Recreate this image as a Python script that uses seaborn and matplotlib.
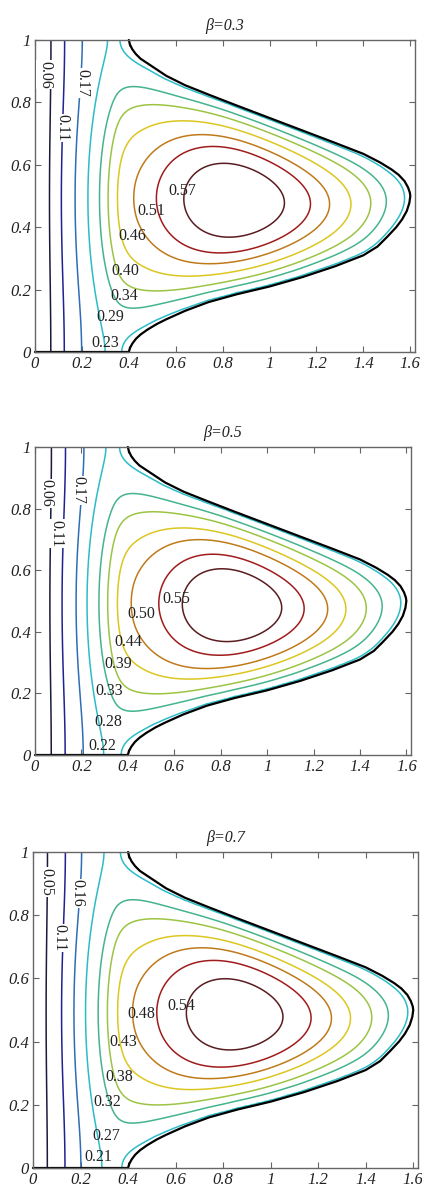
import numpy as np
import matplotlib
matplotlib.use("Agg")
import matplotlib.pyplot as plt
import seaborn as sns

# ---------------------------------------------------------------- data
beta_values = [0.3, 0.5, 0.7]
peak_values = [0.629, 0.607, 0.591]       # field maximum in each panel
boundary_values = [0.211, 0.202, 0.193]   # field value on the curved boundary

levels_b03 = [0.06, 0.11, 0.17, 0.23, 0.29, 0.34, 0.40, 0.46, 0.51, 0.57]
levels_b05 = [0.06, 0.11, 0.17, 0.22, 0.28, 0.33, 0.39, 0.44, 0.50, 0.55]
levels_b07 = [0.05, 0.11, 0.16, 0.21, 0.27, 0.32, 0.38, 0.43, 0.48, 0.54]

# contour label anchors (one per level, same order as the levels)
label_x_b03 = [0.043, 0.115, 0.200, 0.300, 0.320, 0.380, 0.383, 0.413, 0.494, 0.630]
label_y_b03 = [0.888, 0.718, 0.862, 0.029, 0.112, 0.180, 0.260, 0.372, 0.452, 0.516]
label_x_b05 = [0.047, 0.094, 0.185, 0.290, 0.317, 0.320, 0.357, 0.400, 0.460, 0.610]
label_y_b05 = [0.850, 0.720, 0.860, 0.030, 0.107, 0.208, 0.295, 0.367, 0.458, 0.506]
label_x_b07 = [0.055, 0.110, 0.185, 0.274, 0.307, 0.312, 0.362, 0.380, 0.455, 0.623]
label_y_b07 = [0.905, 0.728, 0.870, 0.035, 0.101, 0.209, 0.288, 0.400, 0.487, 0.513]
label_rotation = [-90, -90, -90, 0, 0, 0, 0, 0, 0, 0]

# curved outline of the domain (neck at x = 0.4, tip at x = 1.6)
top_x = [0.400, 0.405, 0.415, 0.430, 0.450, 0.480, 0.520, 0.560, 0.640, 0.740, 0.860,
         1.000, 1.140, 1.280, 1.400, 1.470, 1.520, 1.550, 1.575, 1.590, 1.598, 1.600]
top_y = [1.000, 0.985, 0.970, 0.955, 0.940, 0.925, 0.905, 0.885, 0.855, 0.825, 0.790,
         0.750, 0.710, 0.670, 0.635, 0.608, 0.585, 0.568, 0.548, 0.528, 0.511, 0.500]
bot_x = [0.400, 0.405, 0.415, 0.430, 0.450, 0.480, 0.520, 0.560, 0.640, 0.740, 0.860,
         1.000, 1.140, 1.280, 1.400, 1.460, 1.500, 1.540, 1.565, 1.585, 1.596, 1.600]
bot_y = [0.000, 0.013, 0.027, 0.042, 0.056, 0.072, 0.090, 0.105, 0.132, 0.160, 0.185,
         0.210, 0.240, 0.275, 0.310, 0.338, 0.368, 0.400, 0.425, 0.452, 0.478, 0.500]

line_colors = ["#1a1a3c", "#1f2290", "#2f6db4", "#2cbcc8", "#45b48c",
               "#9cc444", "#dcc620", "#bf7a1a", "#a01c1c", "#5a1c20"]

# ---------------------------------------------------------------- field
NECK = 0.40
XMAX = 1.62
K_LEFT = 0.25          # relative conductivity (x direction) of the rectangular part
ANISO = 3.0            # transverse / axial conductivity ratio in the rectangular part


def smoothstep(t):
    t = np.clip(t, 0.0, 1.0)
    return t * t * (3 - 2 * t)


def domain(h):
    xg = np.arange(0.0, XMAX + h / 2, h)
    yg = np.arange(0.0, 1.0 + h / 2, h)
    X, Y = np.meshgrid(xg, yg)
    ytop = np.where(X < NECK, 1.0, np.interp(X, top_x, top_y, right=0.5))
    ybot = np.where(X < NECK, 0.0, np.interp(X, bot_x, bot_y, right=0.5))
    inside = (X < NECK) | ((Y < ytop) & (Y > ybot))
    inside &= X < top_x[-1]
    free = inside & (X > 1e-9)
    fixed = np.zeros((2,) + X.shape)      # [0] boundary part, [1] source part
    fixed[0][~inside] = 1.0
    blend = smoothstep((X - 0.33) / 0.12)
    kx = K_LEFT + (1 - K_LEFT) * blend
    ky = K_LEFT * ANISO + (1 - K_LEFT * ANISO) * blend
    src = smoothstep((X - 0.35) / 0.08) * (0.25 + 0.75 * smoothstep((X - 0.42) / 0.50))
    source = np.stack([np.zeros_like(X), src])
    return X, Y, inside, free, fixed, source, kx, ky


def relax(u0, free, source, kx, ky, h, n_iter, omega):
    k, ny, nx = u0.shape
    pad = np.zeros((k, ny + 2, nx + 2))
    pad[:, 1:-1, 1:-1] = u0
    face = 0.5 * (kx[:, :-1] + kx[:, 1:])
    kE = np.concatenate([face, face[:, -1:]], axis=1)
    kW = np.concatenate([face[:, :1], face], axis=1)
    diag = kE + kW + 2 * ky
    jj, ii = np.indices((ny, nx))
    phases = [free & ((ii + jj) % 2 == p) for p in (0, 1)]
    h2s = h * h * source
    for _ in range(n_iter):
        for m in phases:
            pad[:, 0] = pad[:, 2]      # insulated walls y = 0, y = 1
            pad[:, -1] = pad[:, -3]
            core = pad[:, 1:-1, 1:-1]
            gs = (ky * (pad[:, :-2, 1:-1] + pad[:, 2:, 1:-1])
                  + kW * pad[:, 1:-1, :-2] + kE * pad[:, 1:-1, 2:] + h2s) / diag
            core[:, m] += omega * (gs[:, m] - core[:, m])
    return pad[:, 1:-1, 1:-1].copy()


hc = 0.01
Xc, Yc, inc, frc, fxc, src_c, kx_c, ky_c = domain(hc)
uc = relax(fxc, frc, src_c, kx_c, ky_c, hc, 1800, 1.95)

hf = 0.005
X, Y, inside, free, fixed, source, kx, ky = domain(hf)
u0 = np.empty_like(fixed)
u0[:, ::2, ::2] = uc
u0[:, 1::2, ::2] = 0.5 * (uc[:, :-1] + uc[:, 1:])
u0[:, :, 1::2] = 0.5 * (u0[:, :, :-2:2] + u0[:, :, 2::2])
u0[:, ~free] = fixed[:, ~free]
u = relax(u0, free, source, kx, ky, hf, 500, 1.97)
u_bnd, u_src = u[0], u[1]


def panel_field(b, peak):
    lo, hi = 0.0, 1000.0
    for _ in range(60):
        q = 0.5 * (lo + hi)
        if (b * u_bnd + q * u_src).max() > peak:
            hi = q
        else:
            lo = q
    return b * u_bnd + 0.5 * (lo + hi) * u_src


# ---------------------------------------------------------------- figure
sns.set_theme(style="ticks")
plt.rcParams["font.family"] = ["Liberation Serif", "DejaVu Serif"]
palette = sns.color_palette(line_colors)

fig = plt.figure(figsize=(4.22, 11.93), dpi=100)
W, H = 422.0, 1193.0
boxes = [(35, 40, 415, 352), (35, 447, 411, 755), (33, 852, 418, 1168)]

panels = [
    (levels_b03, label_x_b03, label_y_b03),
    (levels_b05, label_x_b05, label_y_b05),
    (levels_b07, label_x_b07, label_y_b07),
]

outline_x = np.r_[0.0, bot_x, top_x[::-1]]
outline_y = np.r_[0.0, bot_y, top_y[::-1]]

for k, (beta, peak, b) in enumerate(zip(beta_values, peak_values, boundary_values)):
    levels, lx, ly = panels[k]
    l, t, r, btm = boxes[k]
    ax = fig.add_axes([l / W, 1 - btm / H, (r - l) / W, (btm - t) / H])
    Z = panel_field(b, peak)
    ax.contour(X, Y, Z, levels=levels, colors=palette, linewidths=1.1)
    sns.lineplot(x=outline_x, y=outline_y, sort=False, estimator=None,
                 color="black", linewidth=1.6, ax=ax, clip_on=False)

    for val, px, py, rot in zip(levels, lx, ly, label_rotation):
        kw = {}
        if rot != 0:
            kw["bbox"] = dict(facecolor="white", edgecolor="none", pad=0.5)
        ax.text(px, py, f"{val:.2f}", rotation=rot, ha="center", va="center",
                fontsize=11.5, color="#222222", zorder=5, **kw)

    ax.set_xlim(0, XMAX)
    ax.set_ylim(0, 1)
    ax.set_xticks([0, 0.2, 0.4, 0.6, 0.8, 1.0, 1.2, 1.4, 1.6])
    ax.set_yticks([0, 0.2, 0.4, 0.6, 0.8, 1.0])
    ax.set_xticklabels([f"{v:g}" for v in ax.get_xticks()])
    ax.set_yticklabels([f"{v:g}" for v in ax.get_yticks()])
    ax.tick_params(direction="in", top=True, right=True, length=4, width=0.8,
                   color="#666666", labelsize=12, pad=3, labelcolor="#222222")
    for lab in ax.get_xticklabels() + ax.get_yticklabels():
        lab.set_fontstyle("italic")
    for sp in ax.spines.values():
        sp.set_visible(True)
        sp.set_color("#666666")
        sp.set_linewidth(1.0)
    ax.set_xlabel("")
    ax.set_ylabel("")
    ax.set_title(f"β={beta}", fontsize=11.5, fontstyle="italic", pad=7, color="#222222")

fig.savefig("out.png", dpi=100)
